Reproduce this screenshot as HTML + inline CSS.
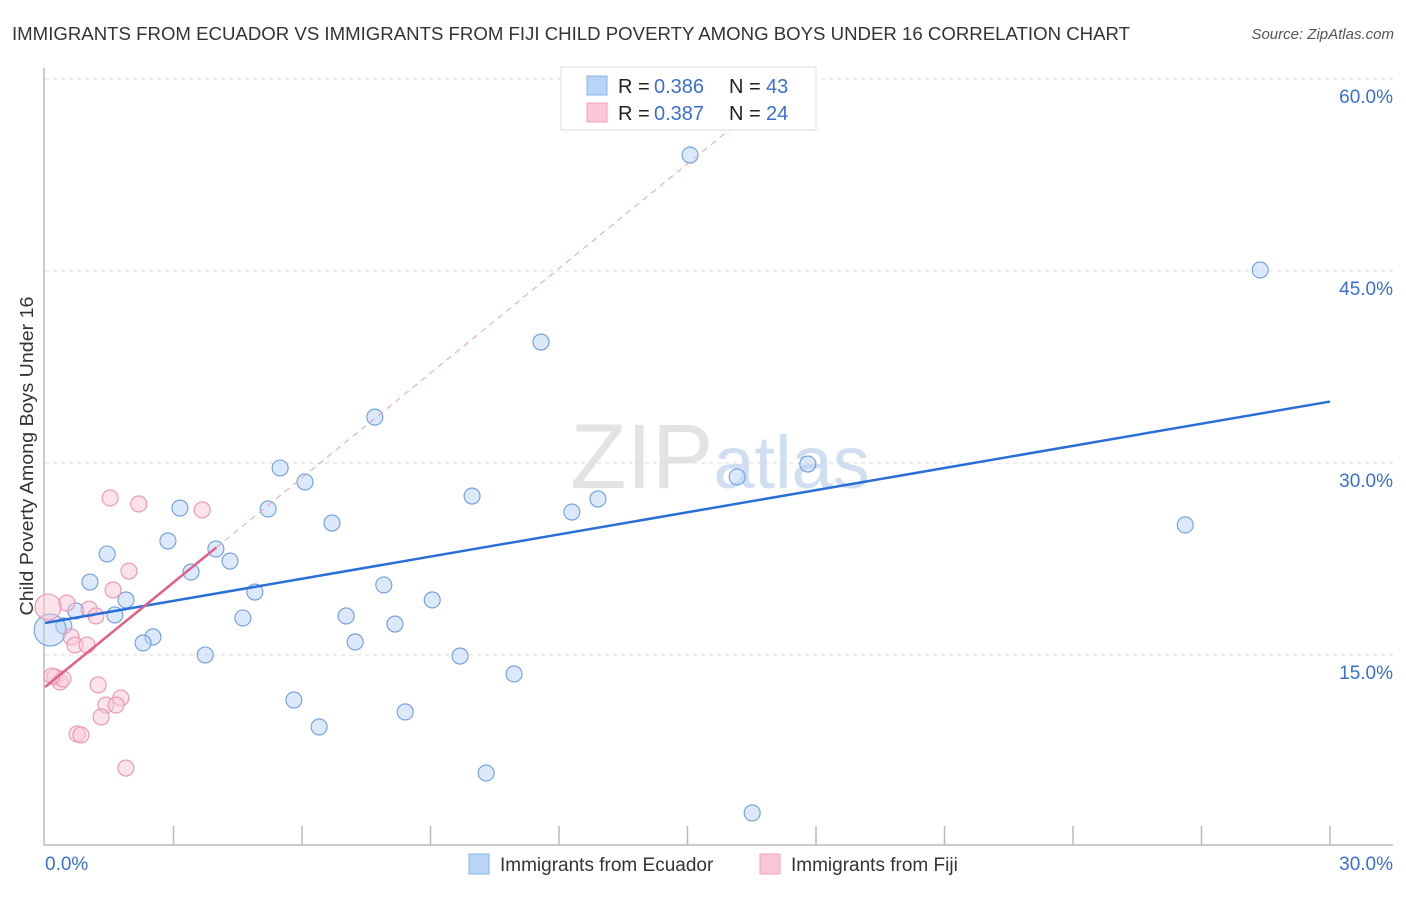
<!DOCTYPE html>
<html><head><meta charset="utf-8"><style>
body{margin:0;background:#fff;font-family:"Liberation Sans",sans-serif}
svg text{font-family:"Liberation Sans",sans-serif}
</style></head><body>
<svg id="c" width="1406" height="892" xmlns="http://www.w3.org/2000/svg">
<text x="12" y="40" font-size="18" fill="#333" textLength="1118" lengthAdjust="spacingAndGlyphs">IMMIGRANTS FROM ECUADOR VS IMMIGRANTS FROM FIJI CHILD POVERTY AMONG BOYS UNDER 16 CORRELATION CHART</text>
<text x="1394" y="39" font-size="15" fill="#555" font-style="italic" text-anchor="end">Source: ZipAtlas.com</text>
<text transform="translate(33,456) rotate(-90)" font-size="18" fill="#333" text-anchor="middle" textLength="319" lengthAdjust="spacingAndGlyphs">Child Poverty Among Boys Under 16</text>
<g id="grid"></g>
<text x="720" y="488" font-size="92" text-anchor="middle" font-family="Liberation Serif" fill="#ddd" opacity="0.8">ZIP<tspan fill="#c5d7ef" font-family="Liberation Sans" font-size="74">atlas</tspan></text>
<g id="axes"></g>
<g id="marks"></g>
<g>
<rect x="561" y="67" width="255" height="63" fill="#fff" stroke="#ddd"/>
<rect x="587" y="76" width="20" height="19" fill="#b8d4f6" stroke="#8ab3e6"/>
<rect x="587" y="103" width="20" height="19" fill="#f9c7d6" stroke="#eea3bb"/>
<text x="618" y="93" font-size="20" fill="#222">R =</text><text x="654" y="93" font-size="20" fill="#3a6fd0">0.386</text>
<text x="729" y="93" font-size="20" fill="#222">N =</text><text x="766" y="93" font-size="20" fill="#3a6fd0">43</text>
<text x="618" y="120" font-size="20" fill="#222">R =</text><text x="654" y="120" font-size="20" fill="#3a6fd0">0.387</text>
<text x="729" y="120" font-size="20" fill="#222">N =</text><text x="766" y="120" font-size="20" fill="#3a6fd0">24</text>
</g>
<g>
<rect x="469" y="854" width="20" height="20" fill="#b8d4f6" stroke="#8ab3e6"/>
<text x="500" y="871" font-size="19" fill="#333">Immigrants from Ecuador</text>
<rect x="760" y="854" width="20" height="20" fill="#f9c7d6" stroke="#eea3bb"/>
<text x="791" y="871" font-size="19" fill="#333">Immigrants from Fiji</text>
</g>
</svg>
<script>
const yTicks=[15,30,45,60];
const yTickLabels=["15.0%","30.0%","45.0%","60.0%"];
const xTickLabels=["0.0%","30.0%"];
const ecuadorX=[15.06,28.37,11.58,7.70,5.49,6.07,17.81,16.16,9.97,12.91,12.30,5.21,3.15,6.70,26.62,1.45,2.87,3.99,4.32,3.41,1.05,7.91,4.90,1.89,9.04,0.72,1.63,4.62,7.03,0.44,8.17,2.52,2.29,7.24,3.74,9.69,10.95,5.81,8.41,6.40,10.30,16.51,0.12];
const ecuadorY=[54.06,45.08,39.45,33.59,29.61,28.52,29.92,28.91,27.42,27.19,26.17,26.41,26.48,25.31,25.16,22.89,23.91,23.28,22.34,21.48,20.70,20.47,19.92,19.30,19.30,18.44,18.13,17.89,18.05,17.27,17.42,16.41,15.94,16.02,15.0,14.92,13.52,11.48,10.55,9.38,5.78,2.66,16.95];
const fijiX=[1.52,2.19,3.67,1.96,1.59,0.51,1.03,1.19,0.61,0.70,0.98,0.07,0.23,0.35,0.42,0.16,1.24,1.77,1.42,1.66,1.31,0.75,0.84,1.89];
const fijiY=[27.27,26.80,26.33,21.56,20.08,19.06,18.59,18.05,16.41,15.78,15.78,18.75,13.28,12.89,13.13,13.36,12.66,11.64,11.09,11.09,10.16,8.83,8.75,6.17];
const ecuadorTrend=[17.5,34.8];
const fijiTrend=[12.5,23.4];
const fijiTrendEnd=4.0;
const X=v=>45+v*(1285/30), Y=v=>847-v*12.8;
const NS="http://www.w3.org/2000/svg";
function mk(p,t,a){const e=document.createElementNS(NS,t);for(const k in a)e.setAttribute(k,a[k]);p.appendChild(e);return e;}
const grid=document.getElementById('grid'),axes=document.getElementById('axes'),marks=document.getElementById('marks');
yTicks.forEach((t,i)=>{
 const l=mk(grid,'line',{x1:45,x2:1393,y1:Y(t),y2:Y(t),stroke:'#ddd','stroke-dasharray':'4,4'});
 
 
 const tx=mk(axes,'text',{x:1393,y:Y(t)+24,'font-size':19,fill:'#3a6fd0','text-anchor':'end'});
 tx.textContent=yTickLabels[i];
 
 
});
mk(axes,'line',{x1:44,x2:44,y1:68,y2:845,stroke:'#bbb','stroke-width':1.5});
mk(axes,'line',{x1:44,x2:1393,y1:845,y2:845,stroke:'#bbb','stroke-width':1.5});
for(let i=1;i<=10;i++){const x=X(i*3);mk(axes,'line',{x1:x,x2:x,y1:826,y2:845,stroke:'#bbb','stroke-width':1.5});}
[[0,'start',45],[30,'end',1393]].forEach((d,i)=>{const t=mk(axes,'text',{x:d[2],y:870,'font-size':19,fill:'#3a6fd0','text-anchor':d[1]});t.textContent=xTickLabels[i];
 
 });
ecuadorX.forEach((x,i)=>{const big=i===ecuadorX.length-1;
 const c=mk(marks,'circle',{cx:X(x),cy:Y(ecuadorY[i]),r:big?16:8,fill:'#b8d4f6','fill-opacity':0.5,stroke:'#6c9de0','stroke-width':1.1});
 
 });
fijiX.forEach((x,i)=>{const big=i===11;
 const c=mk(marks,'circle',{cx:X(x),cy:Y(fijiY[i]),r:big?13:8,fill:'#f9c7d6','fill-opacity':0.5,stroke:'#eb94b0','stroke-width':1.1});
 
 });
const slope=(fijiTrend[1]-fijiTrend[0])/fijiTrendEnd, xe=(58-fijiTrend[0])/slope;
const d=mk(marks,'line',{x1:X(fijiTrendEnd),y1:Y(fijiTrend[1]),x2:X(xe),y2:Y(58),stroke:'#e8a0b5','stroke-dasharray':'6,5'});


const bl=mk(marks,'line',{x1:X(0),y1:Y(ecuadorTrend[0]),x2:X(30),y2:Y(ecuadorTrend[1]),stroke:'#2a6fd6','stroke-width':2.5});


const pl=mk(marks,'line',{x1:X(0),y1:Y(fijiTrend[0]),x2:X(fijiTrendEnd),y2:Y(fijiTrend[1]),stroke:'#e0608a','stroke-width':2.5});


</script>
</body></html>
